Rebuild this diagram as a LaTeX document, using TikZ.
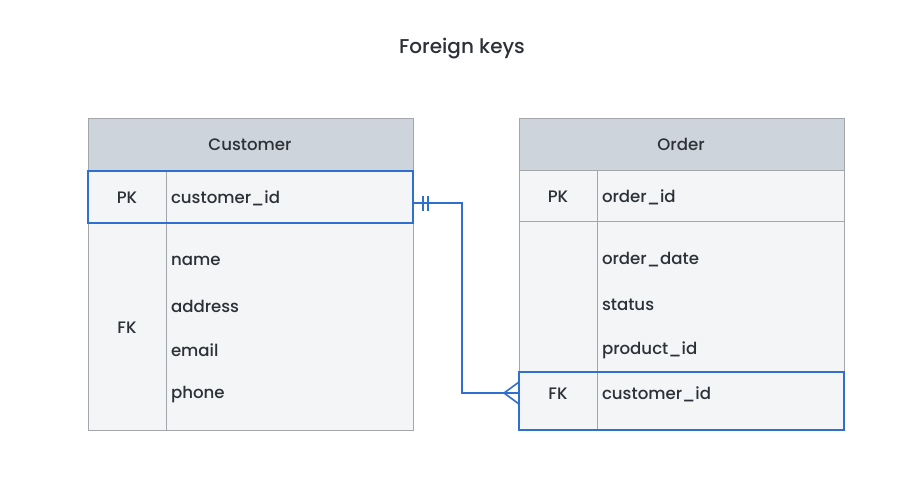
\documentclass[tikz,border=0pt]{standalone}
\usepackage{fontspec}
\setmainfont{Poppins}[UprightFont=* Medium]
\begin{document}
\begin{tikzpicture}[x=1pt,y=-1pt,
  every node/.style={inner sep=0pt,outer sep=0pt,text=txt},
  cell/.style={draw=grid,line width=1pt,fill=body,anchor=north west},
  head/.style={cell,fill=hdr},
  keyrow/.style={cell,draw=link,line width=1.4pt},
  lbl/.style={font=\fontsize{16.6}{20}\selectfont},
  field/.style={lbl,anchor=west},
  rel/.style={draw=link,line width=1.6pt}]
\definecolor{txt}{HTML}{2B3137}
\definecolor{grid}{HTML}{A3A6AA}
\definecolor{body}{HTML}{F4F5F7}
\definecolor{hdr}{HTML}{CDD4DB}
\definecolor{link}{HTML}{2F6FD0}
\useasboundingbox (0,0) rectangle (915,501);

\node[font=\fontsize{20}{24}\selectfont] (title) at (462,49) {Foreign keys};

% Customer table
\node[head,minimum width=325pt,minimum height=52pt] (ch) at (88,118) {};
\node[cell,minimum width=325pt,minimum height=207pt] (cb) at (88,223) {};
\draw[grid,line width=1pt] (166,223) -- (166,430);
\node[keyrow,minimum width=325pt,minimum height=52pt] (cpk) at (88,171) {};
\draw[grid,line width=1pt] (166,172) -- (166,222);
\node[lbl] (ctitle) at (250,144.5) {Customer};
\node[lbl] (cpkl) at (127,198) {PK};
\node[field] (cid) at (171,198) {customer\_id};
\node[lbl] (cfk) at (127,328) {FK};
\node[field] (cname) at (171,261) {name};
\node[field] (caddr) at (171,306) {address};
\node[field] (cmail) at (171,350) {email};
\node[field] (cphone) at (171,395) {phone};

% Order table
\node[head,minimum width=325pt,minimum height=52pt] (oh) at (519,118) {};
\node[cell,minimum width=325pt,minimum height=51pt] (opk) at (519,170) {};
\node[cell,minimum width=325pt,minimum height=151pt] (ob) at (519,221) {};
\draw[grid,line width=1pt] (597,170) -- (597,372);
\node[keyrow,minimum width=325pt,minimum height=58pt] (ofk) at (519,372) {};
\draw[grid,line width=1pt] (597,373) -- (597,429);
\node[lbl] (otitle) at (681,144.5) {Order};
\node[lbl] (opkl) at (558,197) {PK};
\node[field] (oid) at (602,197) {order\_id};
\node[field] (odate) at (602,260) {order\_date};
\node[field] (ostat) at (602,305) {status};
\node[field] (oprod) at (602,350) {product\_id};
\node[lbl] (ofkl) at (558,394) {FK};
\node[field] (ocid) at (602,394) {customer\_id};

% one-to-many relationship
\coordinate (bend1) at (462,203);
\coordinate (bend2) at (462,393);
\coordinate (foot) at (504,393);
\draw[rel] (cpk.east |- bend1) -- (bend1) -- (bend2) -- (ofk.west |- bend2);
\draw[rel] (423,196) -- (423,211);
\draw[rel] (428,196) -- (428,211);
\draw[rel] (ofk.west |- 0,382) -- (foot) -- (ofk.west |- 0,404);
\end{tikzpicture}
\end{document}
